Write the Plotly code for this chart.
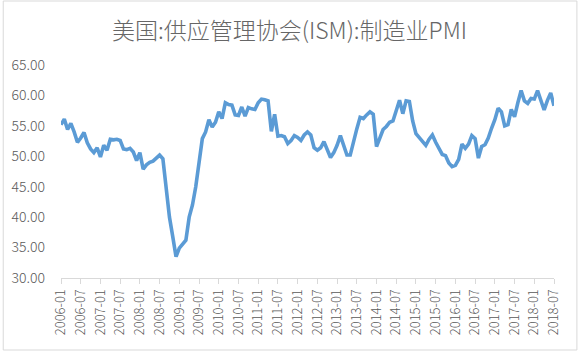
import plotly.graph_objects as go

# monthly categories 2006-01 .. 2018-07
months = [f"{y}-{m:02d}" for y in range(2006, 2019) for m in range(1, 13)]
months = months[: months.index("2018-07") + 1]

pmi = [
    55.2, 56.1, 54.4, 55.4, 54.0, 52.3, 53.0, 53.9, 52.2, 51.2, 50.6, 51.4,   # 2006
    49.9, 51.8, 51.0, 52.8, 52.7, 52.8, 52.6, 51.2, 51.1, 51.3, 50.7, 49.3,   # 2007
    50.6, 47.9, 48.6, 49.0, 49.2, 49.8, 50.2, 49.6, 44.6, 40.0, 36.8, 33.5,   # 2008
    34.9, 35.6, 36.2, 40.0, 42.0, 45.0, 48.8, 52.9, 54.0, 56.0, 54.8, 55.6,   # 2009
    57.3, 56.2, 58.8, 58.5, 58.4, 56.8, 56.7, 58.1, 56.6, 58.0, 57.8, 57.7,   # 2010
    58.8, 59.4, 59.3, 59.1, 54.1, 56.9, 53.3, 53.4, 53.2, 52.1, 52.6, 53.4,   # 2011
    53.1, 52.6, 53.5, 54.0, 53.5, 51.4, 51.0, 51.4, 52.4, 51.2, 49.8, 50.6,   # 2012
    51.8, 53.4, 51.8, 50.2, 50.2, 52.5, 54.5, 56.4, 56.2, 56.8, 57.3, 56.9,   # 2013
    51.6, 53.0, 54.4, 54.9, 55.6, 55.8, 57.5, 59.2, 57.0, 59.1, 59.0, 55.8,   # 2014
    53.7, 53.0, 52.3, 51.8, 52.8, 53.5, 52.3, 51.2, 50.3, 50.1, 48.9, 48.3,   # 2015
    48.5, 49.5, 52.0, 51.3, 52.0, 53.4, 52.9, 49.7, 51.6, 51.9, 53.0, 54.6,   # 2016
    56.0, 57.9, 57.3, 55.0, 55.2, 57.7, 56.5, 58.8, 60.8, 59.1, 58.7, 59.5,   # 2017
    59.4, 60.8, 59.4, 57.6, 59.2, 60.4, 58.3,                                 # 2018
]

tick_labels = [m for m in months if m.endswith("-01") or m.endswith("-07")]
y_ticks = [30, 35, 40, 45, 50, 55, 60, 65]

title_text = "美国:供应管理协会(ISM):制造业PMI"

W, H = 579, 352
ML, MR, MT, MB = 59, 25, 65, 74

fig = go.Figure()
fig.add_trace(go.Scatter(
    x=months, y=pmi, mode="lines",
    line=dict(color="#5B9BD5", width=3.6),
    hoverinfo="x+y", showlegend=False,
))

pw = W - ML - MR
ph = H - MT - MB
def px_x(p):
    return (p - ML) / pw
def px_y(p):
    return 1 - (p - MT) / ph

fig.update_layout(
    width=W, height=H,
    margin=dict(l=ML, r=MR, t=MT, b=MB, pad=0),
    paper_bgcolor="white", plot_bgcolor="white",
    title=dict(text=title_text, x=0.5, xanchor="center", y=1 - 31 / H, yanchor="middle",
               font=dict(family="Noto Sans CJK SC", size=23, color="#666666", weight=300)),
    font=dict(family="Noto Sans CJK SC", size=13, color="#595959"),
    xaxis=dict(
        type="category", categoryorder="array", categoryarray=months,
        range=[0, len(months) - 1],
        tickmode="array", tickvals=tick_labels, ticktext=tick_labels,
        tickangle=-90, ticks="outside", ticklen=5, tickcolor="#D9D9D9",
        showline=True, linecolor="#D9D9D9", linewidth=1,
        showgrid=False, zeroline=False,
        tickfont=dict(family="Noto Sans CJK SC", size=13, color="#595959", weight=300),
    ),
    yaxis=dict(
        range=[30, 65], tickmode="array", tickvals=y_ticks,
        ticktext=[f"{v:.2f}" for v in y_ticks],
        showgrid=False, zeroline=False, showline=False, ticks="",
        ticklabelstandoff=15,
        tickfont=dict(family="Noto Sans CJK SC", size=14, color="#595959", weight=300),
    ),
    shapes=[dict(type="rect", xref="paper", yref="paper",
                 x0=px_x(1), x1=px_x(577), y0=px_y(350), y1=px_y(1),
                 line=dict(color="#D9D9D9", width=1), fillcolor="rgba(0,0,0,0)", layer="below")],
)

fig.write_html("out.html")
